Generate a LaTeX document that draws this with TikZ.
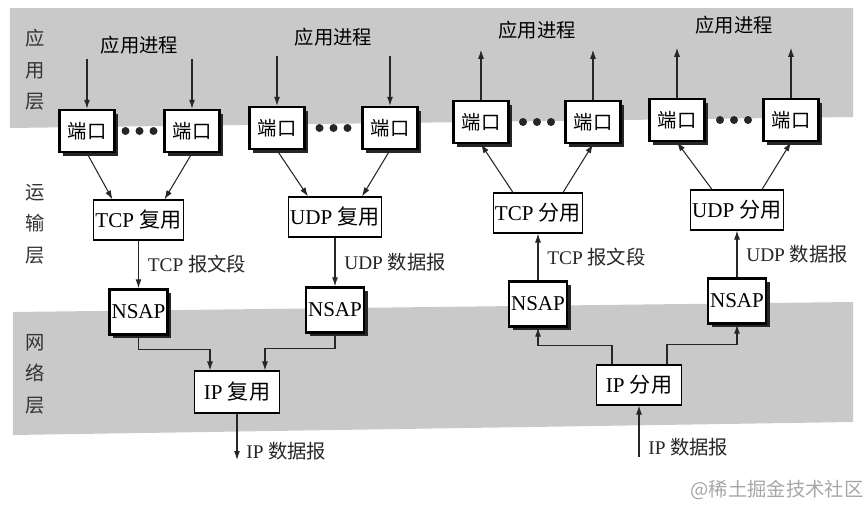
\documentclass[tikz,border=0pt]{standalone}
\usepackage{fontspec}
\setmainfont{Liberation Serif}
\newfontfamily\cjk{Noto Sans CJK SC}
\usetikzlibrary{positioning, arrows.meta, shadows, calc}

\begin{document}
\begin{tikzpicture}[
    font=\fontsize{10.5}{12}\selectfont,
    band/.style = {fill=gray!42, draw=none},
    port/.style = {
        rectangle, draw=black, line width=1.4pt, fill=white,
        minimum width=1.1cm, minimum height=0.84cm, inner sep=1pt,
        font=\fontsize{11}{13}\selectfont,
        drop shadow={shadow xshift=0.07cm, shadow yshift=-0.07cm, fill=black!85, opacity=1}
    },
    nsap/.style = {
        port, minimum width=1.16cm, minimum height=0.9cm, font=\fontsize{12}{14}\selectfont
    },
    mux/.style = {
        rectangle, draw=black, line width=0.6pt, fill=white,
        minimum width=1.66cm, minimum height=0.8cm, inner sep=1pt,
        font=\fontsize{12}{14}\selectfont
    },
    arrow/.style = {
        -{Latex[length=1.8mm, width=1.2mm]}, line width=0.6pt, color=black!85
    },
    layer/.style = {
        align=center, font=\cjk\fontsize{11}{18}\selectfont, text=black!80
    },
    tag/.style = {
        right, inner sep=5pt, font=\fontsize{11}{13}\selectfont
    }
]
\useasboundingbox (0,0) rectangle (17.28,10.12);

% Layer bands
\fill[band] (0.2,9.96) -- (17.06,9.96) -- (17.06,7.78) -- (0.2,7.56) -- cycle;
\fill[band] (0.26,3.88) -- (17.06,4.08) -- (17.06,1.68) -- (0.26,1.42) -- cycle;

% Layer names
\node[layer] (app) at (0.7,8.72) {应\\用\\层};
\node[layer] (trn) at (0.7,5.64) {运\\输\\层};
\node[layer] (net) at (0.7,2.64) {网\\络\\层};

% Ports
\node[port] (p1) at (1.74,7.5)  {\cjk 端口};
\node[port] (p2) at (3.84,7.5)  {\cjk 端口};
\node[port] (p3) at (5.54,7.56) {\cjk 端口};
\node[port] (p4) at (7.8,7.56)  {\cjk 端口};
\node[port] (p5) at (9.62,7.68) {\cjk 端口};
\node[port] (p6) at (11.86,7.68) {\cjk 端口};
\node[port] (p7) at (13.54,7.72) {\cjk 端口};
\node[port] (p8) at (15.82,7.72) {\cjk 端口};

\foreach \a/\b in {p1/p2, p3/p4, p5/p6, p7/p8}
    \foreach \d in {-0.28, 0, 0.28}
        \fill[black!85] ($(\a)!0.5!(\b)$) ++(\d,0) circle (0.08);

% Application processes
\node[font=\cjk\fontsize{11}{13}\selectfont] (ap1) at (2.79,9.22)  {应用进程};
\node[font=\cjk\fontsize{11}{13}\selectfont] (ap2) at (6.67,9.38)  {应用进程};
\node[font=\cjk\fontsize{11}{13}\selectfont] (ap3) at (10.74,9.52) {应用进程};
\node[font=\cjk\fontsize{11}{13}\selectfont] (ap4) at (14.68,9.62) {应用进程};

% Transport layer
\node[mux] (tcpmux) at (2.77,5.72)  {TCP {\cjk 复用}};
\node[mux] (udpmux) at (6.7,5.78)   {UDP {\cjk 复用}};
\node[mux] (tcpdmx) at (10.76,5.86) {TCP {\cjk 分用}};
\node[mux] (udpdmx) at (14.74,5.92) {UDP {\cjk 分用}};

% Network layer
\node[nsap] (n1) at (2.77,3.88)  {NSAP};
\node[nsap] (n2) at (6.7,3.92)   {NSAP};
\node[nsap] (n3) at (10.76,4.04) {NSAP};
\node[nsap] (n4) at (14.74,4.1)  {NSAP};

\node[mux, minimum width=1.7cm, minimum height=0.84cm] (ipmux) at (4.74,2.28) {IP {\cjk 复用}};
\node[mux, minimum width=1.7cm] (ipdmx) at (12.78,2.42) {IP {\cjk 分用}};

\coordinate (ipout) at (4.74,0.92);
\coordinate (ipin)  at (12.78,0.98);

% Process <-> port arrows
\foreach \p in {p1,p2,p3,p4}
    \draw[arrow] ([yshift=1cm]\p.north) -- (\p.north);
\foreach \p in {p5,p6,p7,p8}
    \draw[arrow] (\p.north) -- ([yshift=1cm]\p.north);

% Ports <-> (de)multiplexers
\draw[arrow] (p1.south) -- ([xshift=-0.52cm]tcpmux.north);
\draw[arrow] (p2.south) -- ([xshift=0.52cm]tcpmux.north);
\draw[arrow] (p3.south) -- ([xshift=-0.54cm]udpmux.north);
\draw[arrow] (p4.south) -- ([xshift=0.54cm]udpmux.north);
\draw[arrow] ([xshift=-0.5cm]tcpdmx.north) -- (p5.south);
\draw[arrow] ([xshift=0.5cm]tcpdmx.north)  -- (p6.south);
\draw[arrow] ([xshift=-0.5cm]udpdmx.north) -- (p7.south);
\draw[arrow] ([xshift=0.5cm]udpdmx.north)  -- (p8.south);

% Transport <-> NSAP
\draw[arrow] (tcpmux) -- node[tag] {TCP {\cjk 报文段}} (n1);
\draw[arrow] (udpmux) -- node[tag] {UDP {\cjk 数据报}} (n2);
\draw[arrow] (n3) -- node[tag] {TCP {\cjk 报文段}} (tcpdmx);
\draw[arrow] (n4) -- node[tag] {UDP {\cjk 数据报}} (udpdmx);

% NSAP <-> IP
\draw[arrow] (n1.south) -- ++(0,-0.27) -| ([xshift=-0.54cm]ipmux.north);
\draw[arrow] (n2.south) -- ++(0,-0.29) -| ([xshift=0.56cm]ipmux.north);
\draw[arrow] ([xshift=-0.54cm]ipdmx.north) -- ++(0,0.38) -| (n3.south);
\draw[arrow] ([xshift=0.56cm]ipdmx.north)  -- ++(0,0.4)  -| (n4.south);

% IP datagrams
\draw[arrow] (ipmux) -- node[tag, pos=0.8] {IP {\cjk 数据报}} (ipout);
\draw[arrow] (ipin) -- node[tag, pos=0.2] {IP {\cjk 数据报}} (ipdmx);

\node[text=gray!70, font=\cjk\fontsize{11}{13}\selectfont] (wm) at (15.54,0.32) {@稀土掘金技术社区};

\end{tikzpicture}
\end{document}
